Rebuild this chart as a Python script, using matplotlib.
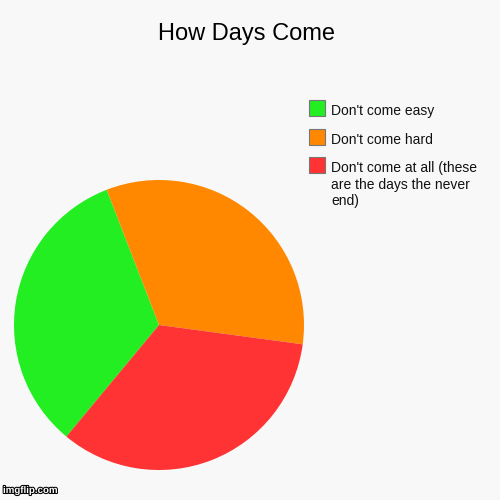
import matplotlib
matplotlib.use("Agg")
import matplotlib.pyplot as plt
from matplotlib.patches import Rectangle
import matplotlib.patheffects as pe

plt.rcParams['font.family'] = ['Liberation Sans', 'DejaVu Sans']

title = "How Days Come"
labels = ["Don't come easy", "Don't come hard",
          "Don't come at all (these\nare the days the never\nend)"]
values = [33.1, 33.0, 33.9]
colors = ["#22ee22", "#ff8800", "#ff3333"]

W = H = 500.0
def fx(x):
    return x / W
def fy(y):
    return 1 - y / H

fig = plt.figure(figsize=(5, 5), dpi=100, facecolor="#f8f8f8")
ax = fig.add_axes([0.028, 0.06, 0.58, 0.58])
ax.set_facecolor("#f8f8f8")
ax.pie(values, colors=colors, startangle=230.3, counterclock=False,
       wedgeprops=dict(linewidth=0))
ax.set_xlim(-1, 1)
ax.set_ylim(-1, 1)
ax.set_aspect('equal')
ax.axis('off')

fig.text(0.493, fy(40), title, ha='center', va='baseline', fontsize=17, color='black')

line_px = 16.5
for i, (lab, col) in enumerate(zip(labels, colors)):
    top = 100 + i * 28.6
    fig.patches.append(Rectangle((fx(309), fy(top + 16)), 16 / W, 16 / H,
                                 transform=fig.transFigure, facecolor=col,
                                 edgecolor='#777777', linewidth=0.8))
    nlines = lab.count("\n") + 1
    fig.text(fx(331), fy(top + 15 + (nlines - 1) * line_px), lab,
             ha='left', va='baseline',
             fontsize=10, color='#111111', linespacing=1.22)

fig.text(fx(3), fy(490), "imgflip.com", ha='left', va='center', fontsize=7,
         fontweight='bold', color='white',
         path_effects=[pe.withStroke(linewidth=1.5, foreground='black')])

fig.savefig("out.png", dpi=100, facecolor=fig.get_facecolor())
